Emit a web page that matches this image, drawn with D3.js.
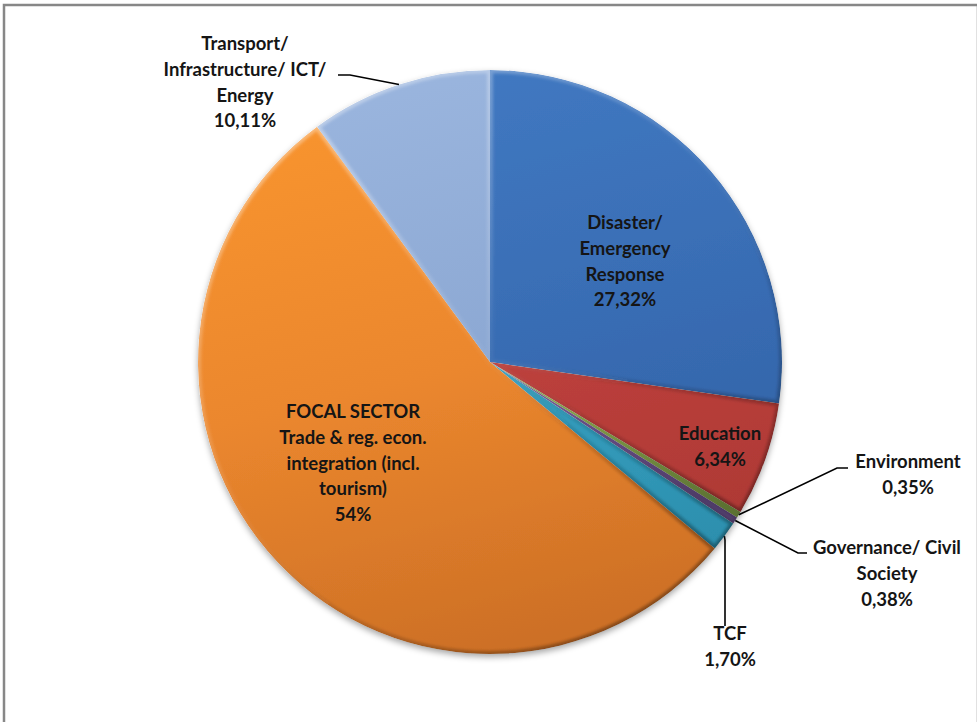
<!DOCTYPE html>
<html>
<head>
<meta charset="utf-8">
<script src="https://cdn.jsdelivr.net/npm/d3@7"></script>
<style>
  html, body { margin: 0; padding: 0; background: #ffffff; }
  svg { display: block; }
  text { font-family: Lato, "Open Sans", sans-serif; font-weight: 700; fill: #151515; }
</style>
</head>
<body>
<svg id="chart" width="977" height="722"></svg>
<script>
// Sector shares, clockwise from 12 o'clock
const categories = [
  "Disaster/ Emergency Response",
  "Education",
  "Environment",
  "Governance/ Civil Society",
  "TCF",
  "FOCAL SECTOR Trade & reg. econ. integration (incl. tourism)",
  "Transport/ Infrastructure/ ICT/ Energy"
];
const shares = [27.32, 6.34, 0.35, 0.38, 1.70, 54, 10.11];
const nameLines = [
  ["Disaster/", "Emergency", "Response"],
  ["Education"],
  ["Environment"],
  ["Governance/ Civil", "Society"],
  ["TCF"],
  ["FOCAL SECTOR", "Trade & reg. econ.", "integration (incl.", "tourism)"],
  ["Transport/", "Infrastructure/ ICT/", "Energy"]
];
// top / middle / bottom tones of each slice
const topColors = ["#4179c2", "#cb4c47", "#9fbf5c", "#8467a6", "#40b0cf", "#f9952f", "#9ab5de"];
const midColors = ["#386cb3", "#bd403c", "#91b151", "#775a99", "#35a1c2", "#eb872e", "#8ca8d3"];
const lowColors = ["#2f5e9f", "#a83632", "#7e9c44", "#664c88", "#2a8aa8", "#cb6e25", "#7e99c6"];

// Label placement: centre of first text line, plus leader elbow for outside labels
const labelLayout = [
  { x: 625, y: 223, inside: true },
  { x: 720, y: 434, inside: true },
  { x: 908, y: 462, elbow: [837, 468], end: [848, 468] },
  { x: 887, y: 548, elbow: [798, 553], end: [807, 553] },
  { x: 730, y: 634, elbow: [725, 540], end: [725, 626] },
  { x: 353, y: 412, inside: true },
  { x: 245, y: 44,  elbow: [350, 75], end: [338, 75] }
];

const fmtShare = v => (Number.isInteger(v) ? String(v) : v.toFixed(2).replace(".", ",")) + "%";

const svg = d3.select("#chart");
const cx = 490, cy = 362, r = 292;
const lineH = 25.6;

// Chart frame
svg.append("rect")
  .attr("x", 4).attr("y", 5).attr("width", 974).attr("height", 760)
  .attr("fill", "#ffffff").attr("stroke", "#878787").attr("stroke-width", 2.5);

const defs = svg.append("defs");
const shadow = defs.append("filter").attr("id", "pieShadow")
  .attr("x", "-10%").attr("y", "-10%").attr("width", "120%").attr("height", "125%");
shadow.append("feDropShadow").attr("dx", 0).attr("dy", 3).attr("stdDeviation", 3)
  .attr("flood-color", "#000").attr("flood-opacity", 0.35);
defs.append("filter").attr("id", "soft").append("feGaussianBlur").attr("stdDeviation", 1.5);

// Gradients live in the pie's local space (origin at the centre)
// Rim light: bright at top-left of the pie, dark toward bottom-right
const rim = defs.append("linearGradient").attr("id", "rim")
  .attr("gradientUnits", "userSpaceOnUse")
  .attr("x1", -r * 0.6).attr("y1", -r * 0.8)
  .attr("x2", r * 0.6).attr("y2", r * 0.8);
rim.append("stop").attr("offset", 0).attr("stop-color", "#ffffff").attr("stop-opacity", 0.35);
rim.append("stop").attr("offset", 0.45).attr("stop-color", "#ffffff").attr("stop-opacity", 0.06);
rim.append("stop").attr("offset", 0.7).attr("stop-color", "#000000").attr("stop-opacity", 0.12);
rim.append("stop").attr("offset", 1).attr("stop-color", "#000000").attr("stop-opacity", 0.35);

shares.forEach((v, i) => {
  const g = defs.append("linearGradient").attr("id", "fill" + i)
    .attr("gradientUnits", "userSpaceOnUse")
    .attr("x1", -r * 0.3).attr("y1", -r)
    .attr("x2", r * 0.2).attr("y2", r);
  g.append("stop").attr("offset", 0).attr("stop-color", topColors[i]);
  g.append("stop").attr("offset", 0.5).attr("stop-color", midColors[i]);
  g.append("stop").attr("offset", 1).attr("stop-color", lowColors[i]);
});

const pie = d3.pie().sort(null).value(d => d);
const arcs = pie(shares);
const arc = d3.arc().innerRadius(0).outerRadius(r);

arcs.forEach((a, i) => {
  defs.append("clipPath").attr("id", "clip" + i)
    .append("path").attr("d", arc(a)).attr("transform", `translate(${cx},${cy})`);
});

const pieG = svg.append("g").attr("filter", "url(#pieShadow)");
const slices = pieG.selectAll("g.slice").data(arcs).join("g")
  .attr("class", "slice")
  .attr("clip-path", (d, i) => `url(#clip${i})`);

slices.append("path")
  .attr("transform", `translate(${cx},${cy})`)
  .attr("d", arc)
  .attr("fill", (d, i) => `url(#fill${i})`);

// bevelled edge
slices.append("path")
  .attr("transform", `translate(${cx},${cy})`)
  .attr("d", arc)
  .attr("fill", "none")
  .attr("stroke", "url(#rim)")
  .attr("stroke-width", 6)
  .attr("filter", "url(#soft)");

// Labels
const labels = svg.append("g");
arcs.forEach((a, i) => {
  const L = labelLayout[i];
  const lines = nameLines[i].concat([fmtShare(shares[i])]);
  const t = labels.append("text").attr("text-anchor", "middle").attr("font-size", 18.5);
  lines.forEach((s, k) => {
    t.append("tspan").attr("x", L.x).attr("y", L.y + k * lineH).attr("dy", "0.35em").text(s);
  });
  if (!L.inside) {
    const mid = (a.startAngle + a.endAngle) / 2;
    const p0 = [cx + r * Math.sin(mid), cy - r * Math.cos(mid)];
    labels.append("polyline")
      .attr("points", [p0, L.elbow, L.end].map(p => p.join(",")).join(" "))
      .attr("fill", "none").attr("stroke", "#000").attr("stroke-width", 1.6);
  }
});
</script>
</body>
</html>
